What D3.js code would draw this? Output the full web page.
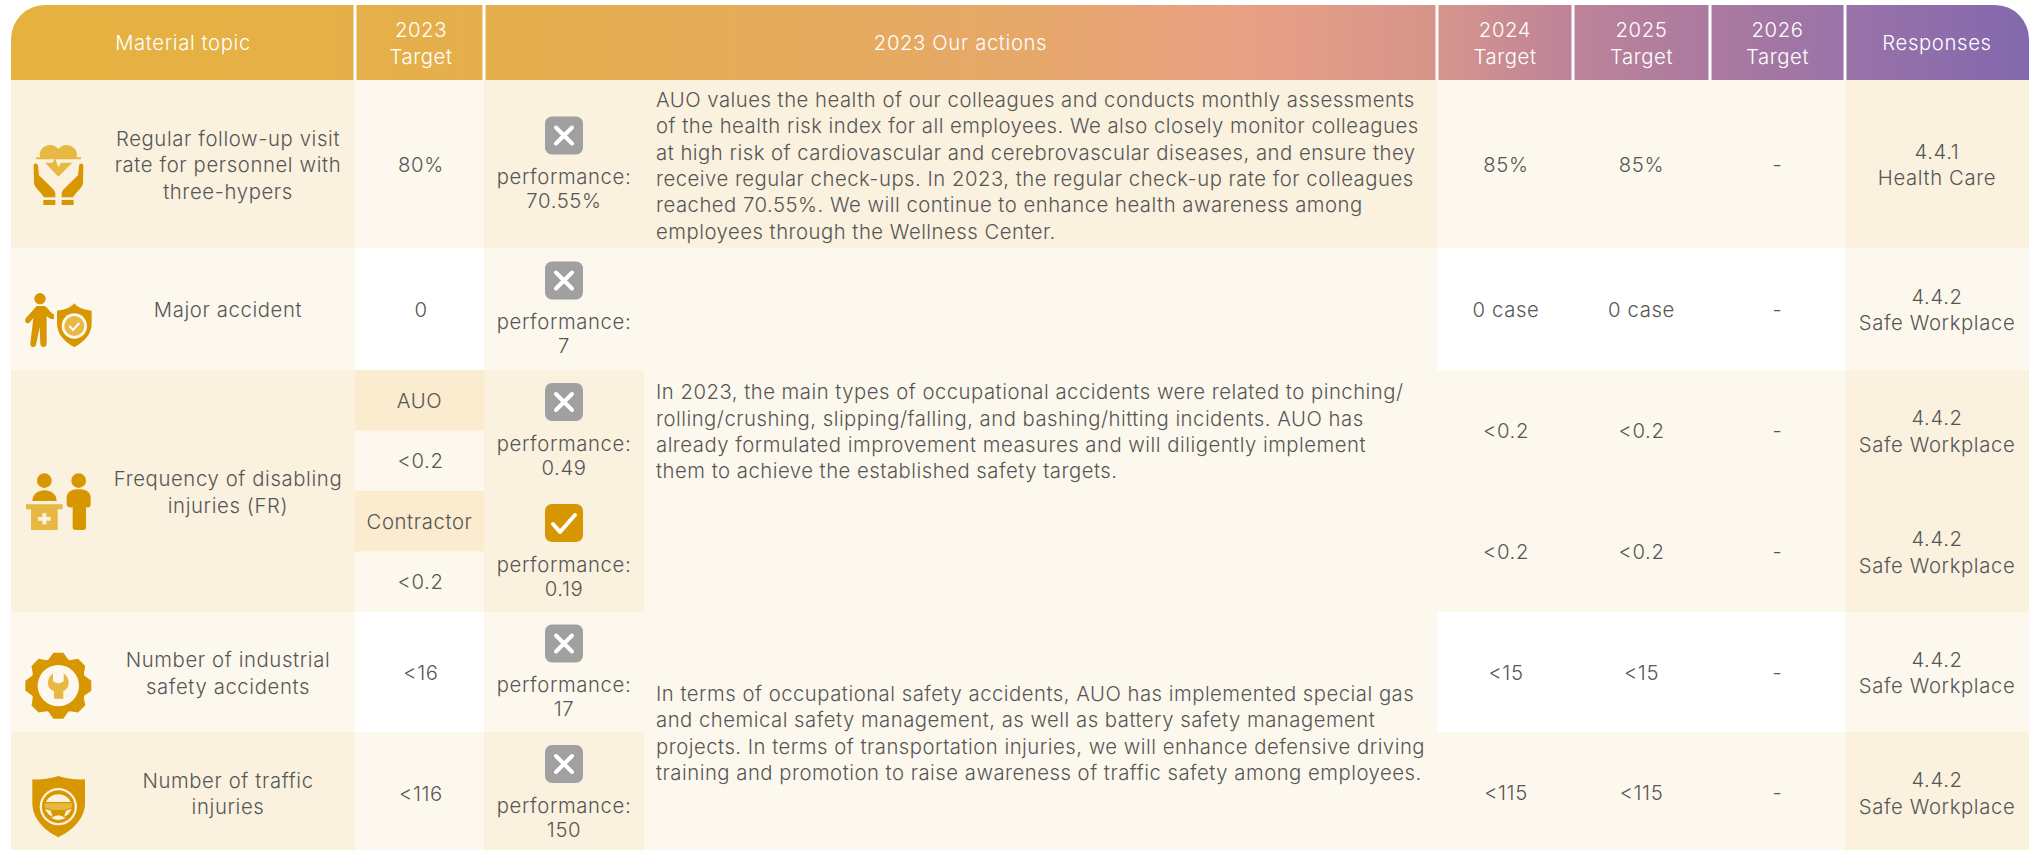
<!DOCTYPE html>
<html>
<head>
<meta charset="utf-8">
<script src="https://cdn.jsdelivr.net/npm/d3@7"></script>
<style>
  html, body { margin: 0; padding: 0; background: #fff; overflow: hidden; }
  text { font-family: Inter, "Noto Sans", sans-serif; font-weight: 300; fill: #565656; font-size: 20.3px; letter-spacing: 0.62px; }
</style>
</head>
<body>
<div id="chart"></div>
<script>
// table content
var headers = [["Material topic"], ["2023", "Target"], ["2023 Our actions"], ["2024", "Target"], ["2025", "Target"], ["2026", "Target"], ["Responses"]];
var topics = [
  ["Regular follow-up visit", "rate for personnel with", "three-hypers"],
  ["Major accident"],
  ["Frequency of disabling", "injuries (FR)"],
  ["Number of industrial", "safety accidents"],
  ["Number of traffic", "injuries"]
];
var targets2023 = ["80%", "0", null, "<16", "<116"];
var frGroups = ["AUO", "Contractor"];
var frTargets = ["<0.2", "<0.2"];
var performance = ["70.55%", "7", "0.49", "0.19", "17", "150"];
var achieved = [false, false, false, true, false, false];
var target2024 = ["85%", "0 case", "<0.2", "<0.2", "<15", "<115"];
var target2025 = ["85%", "0 case", "<0.2", "<0.2", "<15", "<115"];
var target2026 = ["-", "-", "-", "-", "-", "-"];
var responses = [
  ["4.4.1", "Health Care"],
  ["4.4.2", "Safe Workplace"],
  ["4.4.2", "Safe Workplace"],
  ["4.4.2", "Safe Workplace"],
  ["4.4.2", "Safe Workplace"],
  ["4.4.2", "Safe Workplace"]
];
var actionsHealth = [
  "AUO values the health of our colleagues and conducts monthly assessments",
  "of the health risk index for all employees. We also closely monitor colleagues",
  "at high risk of cardiovascular and cerebrovascular diseases, and ensure they",
  "receive regular check-ups. In 2023, the regular check-up rate for colleagues",
  "reached 70.55%. We will continue to enhance health awareness among",
  "employees through the Wellness Center."
];
var actionsInjury = [
  "In 2023, the main types of occupational accidents were related to pinching/",
  "rolling/crushing, slipping/falling, and bashing/hitting incidents. AUO has",
  "already formulated improvement measures and will diligently implement",
  "them to achieve the established safety targets."
];
var actionsTraffic = [
  "In terms of occupational safety accidents, AUO has implemented special gas",
  "and chemical safety management, as well as battery safety management",
  "projects. In terms of transportation injuries, we will enhance defensive driving",
  "training and promotion to raise awareness of traffic safety among employees."
];

// colours
var dark = "#faf1de", light = "#fdf8ed", white = "#ffffff", group = "#fbebcf";
var gold = "#d89600", pale = "#e8b942";

var width = 2037, height = 850;
var svg = d3.select("#chart").append("svg").attr("width", width).attr("height", height);

// column edges and row edges, indexed by name through ordinal scales
var colNames = ["topic", "t23", "perf", "act", "t24", "t25", "t26", "resp", "end"];
var colX = d3.scaleOrdinal().domain(colNames).range([11, 355, 484, 644, 1437, 1573, 1710, 1845, 2029]);
var rowNames = ["head", "r0", "r1", "r2", "r3", "r4", "end"];
var rowY = d3.scaleOrdinal().domain(rowNames).range([5, 80, 248, 370, 612, 732, 853]);

function cell(c0, c1, y0, y1, fill) {
  svg.append("rect")
    .attr("x", colX(c0)).attr("y", y0)
    .attr("width", colX(c1) - colX(c0)).attr("height", y1 - y0)
    .attr("fill", fill);
}

function lines(x, yMid, list, anchor, extra) {
  var lh = extra && extra.lh ? extra.lh : 26.4;
  var top = yMid - (list.length - 1) * lh / 2;
  list.forEach(function(t, i) {
    var el = svg.append("text")
      .attr("x", x).attr("y", top + i * lh)
      .attr("dy", "0.36em")
      .attr("text-anchor", anchor || "middle")
      .text(t);
    if (extra && extra.fill) el.style("fill", extra.fill);
    if (extra && extra.spacing) el.style("letter-spacing", extra.spacing);
  });
}

function mid(c0, c1) { return (colX(c0) + colX(c1)) / 2; }

// header gradient
var grad = svg.append("defs").append("linearGradient")
  .attr("id", "head").attr("gradientUnits", "userSpaceOnUse")
  .attr("x1", colX("topic")).attr("x2", colX("end")).attr("y1", 0).attr("y2", 0);
[[0, "#e6b23e"], [0.26, "#e4ae4e"], [0.5, "#e6a869"], [0.61, "#e9a084"], [0.707, "#d6958b"], [0.774, "#bd8399"], [0.842, "#ab7aa0"], [0.909, "#9a73a8"], [1, "#8368ad"]]
  .forEach(function(s) { grad.append("stop").attr("offset", s[0]).attr("stop-color", s[1]); });

var hx0 = colX("topic"), hx1 = colX("end"), hy0 = rowY("head"), hy1 = rowY("r0"), cr = 34;
var headPath = d3.path();
headPath.moveTo(hx0, hy1);
headPath.lineTo(hx0, hy0 + cr);
headPath.arcTo(hx0, hy0, hx0 + cr, hy0, cr);
headPath.lineTo(hx1 - cr, hy0);
headPath.arcTo(hx1, hy0, hx1, hy0 + cr, cr);
headPath.lineTo(hx1, hy1);
headPath.closePath();
svg.append("path").attr("d", headPath.toString()).attr("fill", "url(#head)");

// white separators between header cells
["t23", "perf", "t24", "t25", "t26", "resp"].forEach(function(c) {
  svg.append("rect").attr("x", colX(c) - 1.5).attr("y", hy0).attr("width", 3).attr("height", hy1 - hy0).attr("fill", white);
});

var headCols = [["topic", "t23"], ["t23", "perf"], ["perf", "t24"], ["t24", "t25"], ["t25", "t26"], ["t26", "resp"], ["resp", "end"]];
headers.forEach(function(h, i) {
  lines(mid(headCols[i][0], headCols[i][1]) + (i === 1 ? 1.5 : 0), (hy0 + hy1) / 2 + 0.5, h, "middle", { fill: "#fff" });
});

// body backgrounds
var bands = [
  { r: ["r0", "r1"], topic: dark, t23: light, perf: dark, act: dark, tgt: light, resp: dark },
  { r: ["r1", "r2"], topic: light, t23: white, perf: light, act: light, tgt: white, resp: light },
  { r: ["r2", "r3"], topic: dark, t23: light, perf: dark, act: light, tgt: light, resp: dark },
  { r: ["r3", "r4"], topic: light, t23: white, perf: light, act: light, tgt: white, resp: light },
  { r: ["r4", "end"], topic: dark, t23: light, perf: dark, act: light, tgt: light, resp: dark }
];
bands.forEach(function(b) {
  var y0 = rowY(b.r[0]), y1 = rowY(b.r[1]);
  cell("topic", "t23", y0, y1, b.topic);
  cell("t23", "perf", y0, y1, b.t23);
  cell("perf", "act", y0, y1, b.perf);
  cell("act", "t24", y0, y1, b.act);
  cell("t24", "resp", y0, y1, b.tgt);
  cell("resp", "end", y0, y1, b.resp);
});

// the FR row is split in two and its target column in four
var frTop = rowY("r2"), frStep = (rowY("r3") - rowY("r2")) / 4;
frGroups.forEach(function(g, i) {
  var y = frTop + i * 2 * frStep;
  cell("t23", "perf", y, y + frStep, group);
  lines(mid("t23", "perf"), y + frStep / 2, [g]);
  lines(mid("t23", "perf") + 1, y + frStep * 1.5, [frTargets[i]]);
});

// row centres used by the six value lines
var rowMids = [
  (rowY("r0") + rowY("r1")) / 2,
  (rowY("r1") + rowY("r2")) / 2,
  frTop + frStep,
  frTop + frStep * 3,
  (rowY("r3") + rowY("r4")) / 2,
  (rowY("r4") + rowY("end")) / 2
];

topics.forEach(function(t, i) {
  var y = (rowY(rowNames[i + 1]) + rowY(rowNames[i + 2])) / 2;
  lines(228, y + 1, t);
  if (targets2023[i] !== null) lines(mid("t23", "perf") + 1.5, y + 1, [targets2023[i]]);
});

function badge(cx, cy, ok) {
  var g = svg.append("g").attr("transform", "translate(" + cx + "," + cy + ")");
  g.append("rect").attr("x", -19).attr("y", -19).attr("width", 38).attr("height", 38).attr("rx", 7)
    .attr("fill", ok ? gold : "#a0a0a0");
  g.append("path")
    .attr("d", ok ? "M-11 1L-4 9L11 -8" : "M-8 -8L8 8M8 -8L-8 8")
    .attr("fill", "none").attr("stroke", "#fff").attr("stroke-width", 4).attr("stroke-linecap", "round").attr("stroke-linejoin", "round");
}

rowMids.forEach(function(y, i) {
  var cx = mid("perf", "act");
  badge(cx, y - 28.5, achieved[i]);
  lines(cx, y + 25, ["performance:", performance[i]], "middle", { lh: 24 });
  lines(mid("t24", "t25") + 1, y + 0.5, [target2024[i]]);
  lines(mid("t25", "t26"), y + 0.5, [target2025[i]]);
  lines(mid("t26", "resp"), y + 0.5, [target2026[i]]);
  lines(mid("resp", "end"), y + 0.5, responses[i]);
});

// action notes
lines(656, 165.5, actionsHealth, "start", { spacing: "0.5px" });
lines(656, 431.5, actionsInjury, "start", { spacing: "0.5px" });
lines(656, 733, actionsTraffic, "start", { spacing: "0.5px" });

// icons, drawn in a 3x grid and scaled down
function icon(ty) {
  return svg.append("g").attr("transform", "translate(0," + ty + ") scale(" + (1 / 3) + ")");
}
function shape(g, d, fill) { g.append("path").attr("d", d).attr("fill", fill); }
function ring(g, x, y, r, fill) { g.append("circle").attr("cx", x).attr("cy", y).attr("r", r).attr("fill", fill); }

// heart held in two hands
var i0 = icon(80);
shape(i0, "M108 232H120C112 200 155 182 175 207C195 182 238 200 230 232H243V238H108Z", pale);
shape(i0, "M135 248H158L165 234L175 262L183 248H217L175 290Z", pale);
shape(i0, "M101 258C101 248 113 248 114 258L117 286L150 318C158 326 166 332 166 342V352H132C126 340 102 322 102 310Z", gold);
shape(i0, "M250 258C250 248 238 248 237 258L234 286L201 318C193 326 185 332 185 342V352H219C225 340 249 322 249 310Z", gold);
i0.append("path").attr("d", "M128 288C135 286 146 304 152 312").attr("stroke", dark).attr("stroke-width", 6).attr("fill", "none");
i0.append("path").attr("d", "M223 288C216 286 205 304 199 312").attr("stroke", dark).attr("stroke-width", 6).attr("fill", "none");
shape(i0, "M130 360H166V375H130ZM185 360H221V375H185Z", gold);

// person and shield
var i1 = icon(80);
ring(i1, 120, 656, 17, gold);
shape(i1, "M110 678H130C138 678 142 684 148 692L162 704V718L150 716L140 708V792C140 804 122 804 121 792L119 742L108 795C104 805 88 802 91 790L100 714L88 728C78 734 72 722 78 714Z", gold);
shape(i1, "M223 670C232 682 252 690 275 692V730C275 765 250 788 223 801C196 788 171 765 171 730V692C194 690 214 682 223 670Z", gold);
ring(i1, 223, 738, 38, light);
ring(i1, 223, 738, 30, pale);
i1.append("path").attr("d", "M208 738L219 750L238 729").attr("stroke", "#fff").attr("stroke-width", 6).attr("fill", "none");

// clinic desk and visitor
var i2 = icon(450);
ring(i2, 133, 92, 22, gold);
ring(i2, 236, 92, 22, gold);
shape(i2, "M97 153C97 110 170 110 170 153Z", gold);
shape(i2, "M78 163H188V178H173V240H93V178H78Z", pale);
shape(i2, "M127 190H139V201H152V212H139V223H127V212H114V201H127Z", dark);
shape(i2, "M200 145C200 125 215 118 236 118C257 118 272 125 272 145V165Q270 175 258 172V232Q258 240 250 240H226Q218 240 218 232V172Q205 175 200 165Z", gold);

// gear with wrench, the teeth come from a small polar path
var i3 = icon(450);
var teeth = d3.range(8).map(function(k) { return k * Math.PI / 4; });
var gearPts = [];
teeth.forEach(function(a) {
  [[-0.36, 84], [-0.15, 100], [0.15, 100], [0.36, 84]].forEach(function(p) {
    gearPts.push([175 + p[1] * Math.sin(a + p[0]), 707 - p[1] * Math.cos(a + p[0])]);
  });
});
shape(i3, d3.line().curve(d3.curveLinearClosed)(gearPts), gold);
ring(i3, 175, 707, 62, light);
shape(i3, "M144 698C144 686 150 676 159 670V694Q175 706 191 694V670C200 676 206 686 206 698C206 712 198 720 190 722V746H162V722C152 720 144 712 144 698Z", pale);

// steering wheel shield
var i4 = icon(450);
shape(i4, "M97 988Q140 990 175 978Q210 990 255 988V1060C255 1110 210 1145 175 1162C140 1145 97 1110 97 1060Z", gold);
ring(i4, 175, 1070, 56, dark);
ring(i4, 175, 1070, 49, gold);
shape(i4, "M138 1056A41 41 0 0 1 212 1056Z", dark);
shape(i4, "M134 1060H216V1072L194 1080H156L134 1072Z", pale);
shape(i4, "M135 1076L152 1082L158 1100A41 41 0 0 1 135 1076Z", dark);
shape(i4, "M215 1076L198 1082L192 1100A41 41 0 0 0 215 1076Z", dark);
shape(i4, "M154 1104Q175 1088 196 1104A41 41 0 0 1 154 1104Z", dark);
</script>
</body>
</html>
